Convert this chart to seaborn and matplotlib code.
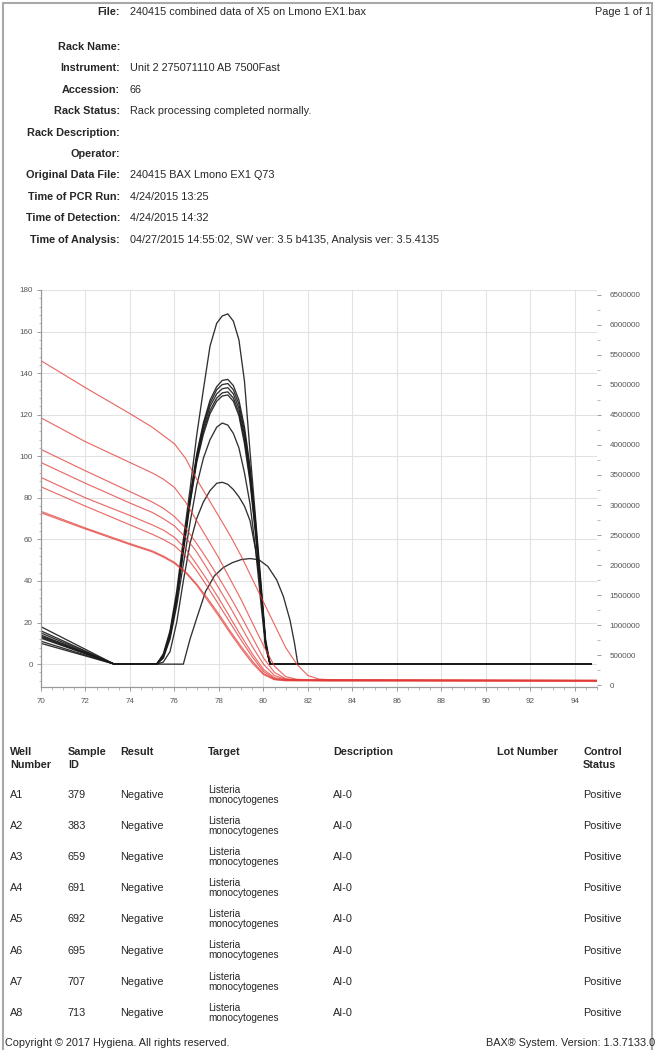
import numpy as np
import pandas as pd
import matplotlib
matplotlib.use("Agg")
import matplotlib.pyplot as plt
from matplotlib.ticker import MultipleLocator, FixedLocator
from matplotlib.patches import Rectangle
import seaborn as sns

sns.set_style("white")
plt.rcParams['font.family'] = ['Liberation Sans', 'DejaVu Sans']

# ---------------- data ----------------
# melt-curve (derivative) traces, black, left axis
BLACK_T = [70, 73.3, 75.2, 75.5, 75.8, 76.1, 76.4, 76.7, 77.0, 77.3, 77.6, 77.9, 78.15,
           78.4, 78.65, 78.9, 79.15, 79.4, 79.65, 79.9, 80.1, 80.3, 94.75]
black_1 = [14, 0, 0, 5, 16, 35, 60, 84, 110, 132, 153, 164, 167.5, 168.5, 165, 156, 136, 102, 70, 38, 12, 0, 0]
black_2 = [13, 0, 0, 4, 14, 32, 56, 80, 101, 116, 127, 133.5, 136.5, 137, 134, 127, 114, 95, 68, 36, 10, 0, 0]
black_3 = [16, 0, 0, 4, 15, 33, 57, 80, 100, 115, 125.5, 132, 134.5, 135, 132, 125, 112, 93, 66, 35, 10, 0, 0]
black_4 = [12.5, 0, 0, 4, 14, 32, 56, 79, 99, 113.5, 124, 130, 132.5, 133, 130, 123, 110, 91, 65, 34, 10, 0, 0]
black_5 = [18, 0, 0, 4, 14, 31, 55, 78, 98, 112, 122, 128, 130.5, 131, 128, 121, 108, 89, 64, 34, 9, 0, 0]
black_6 = [11, 0, 0, 3, 13, 30, 54, 77, 97, 110.5, 120.5, 126.5, 129, 129.5, 126.5, 119.5, 106, 87.5, 62, 33, 9, 0, 0]
black_7 = [15, 0, 0, 3, 12, 28, 48, 68, 86, 99, 108, 114, 116, 115, 111, 104, 92, 77, 55, 28, 8, 0, 0]
black_8 = [13.5, 0, 0, 1, 6, 20, 40, 58, 70, 78, 83.5, 87, 87.5, 86.5, 84, 80.5, 76, 69, 55, 35, 10, 0, 0]
BLACK9_T = [70, 73.3, 76.4, 76.7, 77.0, 77.4, 77.8, 78.2, 78.6, 79.0, 79.4, 79.8, 80.2,
            80.6, 80.9, 81.2, 81.4, 81.55, 94.75]
black_9 = [10, 0, 0, 12, 22, 35, 42.5, 46.5, 48.8, 50.3, 50.8, 50.2, 47, 40.5, 32.5, 21, 10, 0, 0]

# fluorescence traces, red
RED_T = [70, 72, 74, 75, 75.5, 76, 76.5, 77, 77.5, 78, 78.5, 79, 79.5, 80, 80.5, 81,
         81.5, 82, 82.5, 83, 86, 95]
red_1 = [146, 133, 120.5, 114, 110, 106, 99, 89, 80, 71, 62, 52, 41, 30, 19, 8, 0, -5.5, -7.2, -7.5, -7.6, -7.8]
red_2 = [118.5, 107, 97, 92, 89, 85, 78, 69, 60, 51, 41, 31, 20, 9, -1, -6, -7.3, -7.5, -7.6, -7.6, -7.7, -7.8]
red_3 = [103.3, 93, 83, 78, 75, 71, 65.5, 58, 50, 41.5, 32.5, 23, 13, 3, -4, -7, -7.5, -7.6, -7.6, -7.7, -7.7, -7.9]
red_4 = [97, 87, 77.5, 73, 70, 66.5, 61, 54, 45.5, 36.5, 27.5, 18, 8.5, 0, -5.5, -7.3, -7.6, -7.7, -7.7, -7.7, -7.8, -7.9]
red_5 = [89.8, 80, 71.5, 67, 64.5, 61, 55.5, 48, 40, 31.5, 22.5, 13.5, 5, -2.5, -6.5, -7.5, -7.7, -7.7, -7.8, -7.8, -7.8, -8.0]
red_6 = [85.3, 76, 67, 62.5, 60, 57, 52, 45, 37, 28.5, 20, 11.5, 3.5, -3.5, -7, -7.6, -7.7, -7.8, -7.8, -7.8, -7.9, -8.0]
red_7 = [73.5, 65.5, 58, 54.5, 52, 49, 44.5, 38.5, 31.5, 24, 16, 8.5, 1.5, -4.5, -7.3, -7.8, -7.9, -7.9, -7.9, -8.0, -8.0, -8.1]
red_8 = [72.8, 65, 57.5, 54, 51.5, 48.5, 44, 38, 30.5, 23, 15, 7.5, 0.5, -5, -7.5, -8, -8, -8, -8.1, -8.1, -8.1, -8.2]

X_TICKS = [70, 72, 74, 76, 78, 80, 82, 84, 86, 88, 90, 92, 94]
Y_TICKS = [0, 20, 40, 60, 80, 100, 120, 140, 160, 180]
Y2_TICKS = [0, 500000, 1000000, 1500000, 2000000, 2500000, 3000000, 3500000,
            4000000, 4500000, 5000000, 5500000, 6000000, 6500000]

header_labels = ["Rack Name:", "Instrument:", "Accession:", "Rack Status:", "Rack Description:",
                 "Operator:", "Original Data File:", "Time of PCR Run:", "Time of Detection:",
                 "Time of Analysis:"]
header_values = ["", "Unit 2 275071110 AB 7500Fast", "66", "Rack processing completed normally.",
                 "", "", "240415 BAX Lmono EX1 Q73", "4/24/2015 13:25", "4/24/2015 14:32",
                 "04/27/2015 14:55:02, SW ver: 3.5 b4135, Analysis ver: 3.5.4135"]

wells = ["A1", "A2", "A3", "A4", "A5", "A6", "A7", "A8"]
sample_ids = ["379", "383", "659", "691", "692", "695", "707", "713"]
results = ["Negative"] * 8
targets = ["Listeria\nmonocytogenes"] * 8
descriptions = ["AI-0"] * 8
control_status = ["Positive"] * 8

# ---------------- long data frame ----------------
rows = []
blacks = [(BLACK_T, black_1), (BLACK_T, black_2), (BLACK_T, black_3), (BLACK_T, black_4),
          (BLACK_T, black_5), (BLACK_T, black_6), (BLACK_T, black_7), (BLACK_T, black_8),
          (BLACK9_T, black_9)]
reds = [red_1, red_2, red_3, red_4, red_5, red_6, red_7, red_8]
for i, (t, v) in enumerate(blacks):
    for a, b in zip(t, v):
        rows.append(("b%d" % i, "melt", a, b))
for i, v in enumerate(reds):
    for a, b in zip(RED_T, v):
        rows.append(("r%d" % i, "fluor", a, b))
df = pd.DataFrame(rows, columns=["curve", "kind", "temp", "value"])

# ---------------- figure ----------------
W, H = 655, 1050
fig = plt.figure(figsize=(W / 100, H / 100), dpi=100)

def T(x, y, s, **kw):
    kw.setdefault("va", "center")
    kw.setdefault("color", "#262626")
    kw.setdefault("fontsize", 7.8)
    fig.text(x / W, 1 - y / H, s, **kw)

# page border
fig.add_artist(Rectangle((3 / W, -0.02), 649 / W, 1.02 - 3 / H, transform=fig.transFigure,
                         fill=False, edgecolor="#a8a8a8", lw=1.5))

# header
T(120, 12, "File:", ha="right", fontweight="bold")
T(130, 12, "240415 combined data of X5 on Lmono EX1.bax")
T(651, 12, "Page 1 of 1", ha="right")
for i, (lab, val) in enumerate(zip(header_labels, header_values)):
    y = 47 + i * 21.4
    T(120, y, lab, ha="right", fontweight="bold")
    if val:
        T(130, y, val)

# chart
ax = fig.add_axes([41 / W, 1 - 687 / H, 556 / W, 397 / H])
sns.lineplot(data=df[df.kind == "melt"], x="temp", y="value", units="curve", estimator=None,
             sort=False, color="#1a1a1a", lw=0.95, alpha=0.9, ax=ax, legend=False)
sns.lineplot(data=df[df.kind == "fluor"], x="temp", y="value", units="curve", estimator=None,
             sort=False, color="#e23b36", lw=0.85, alpha=0.75, ax=ax, legend=False)
ax.set_xlim(70, 95)
ax.set_ylim(-11, 180)
ax.xaxis.set_major_locator(FixedLocator(X_TICKS))
ax.xaxis.set_minor_locator(MultipleLocator(0.5))
ax.yaxis.set_major_locator(FixedLocator(Y_TICKS))
ax.yaxis.set_minor_locator(MultipleLocator(4))
ax.grid(True, which="major", color="#e2e2e2", lw=0.8)
ax.set_axisbelow(True)
ax.set_xlabel("")
ax.set_ylabel("")
for s in ["top", "right"]:
    ax.spines[s].set_visible(False)
for s in ["left", "bottom"]:
    ax.spines[s].set_color("#9a9a9a")
    ax.spines[s].set_linewidth(0.9)
ax.tick_params(axis="both", which="major", length=3, width=0.7, color="#9a9a9a",
               labelsize=5.8, labelcolor="#555555")
ax.tick_params(axis="x", which="major", pad=5)
ax.tick_params(axis="y", which="major", pad=3)
ax.tick_params(axis="both", which="minor", length=1.8, width=0.6, color="#b0b0b0")
ax.tick_params(left=True, bottom=True, which="both")

ax2 = ax.twinx()
ax2.set_ylim(-33000, 6583000)
ax2.yaxis.set_major_locator(FixedLocator(Y2_TICKS))
ax2.yaxis.set_minor_locator(MultipleLocator(250000))
ax2.set_yticklabels([str(v) for v in Y2_TICKS])
for s in ["top", "left", "bottom", "right"]:
    ax2.spines[s].set_visible(False)
ax2.tick_params(axis="y", which="major", length=3, width=0.7, color="#9a9a9a",
                labelsize=5.8, labelcolor="#555555", pad=6, right=True)
ax2.tick_params(axis="y", which="minor", length=1.8, width=0.6, color="#b0b0b0", right=True)
ax2.grid(False)

# table
cols_x = [10, 68, 120, 208, 333, 497, 583]
T(cols_x[0], 752, "Well", fontweight="bold")
T(cols_x[0], 765, "Number", fontweight="bold")
T(cols_x[1], 752, "Sample", fontweight="bold")
T(cols_x[1], 765, "ID", fontweight="bold")
T(cols_x[2], 752, "Result", fontweight="bold")
T(cols_x[3], 752, "Target", fontweight="bold")
T(cols_x[4], 752, "Description", fontweight="bold")
T(cols_x[5], 752, "Lot Number", fontweight="bold")
T(cols_x[6], 752, "Control", fontweight="bold")
T(cols_x[6], 765, "Status", fontweight="bold")
for i in range(8):
    y = 795 + i * 31.1
    T(cols_x[0], y, wells[i])
    T(cols_x[1], y, sample_ids[i])
    T(cols_x[2], y, results[i])
    T(cols_x[3], y, targets[i], linespacing=1.0, fontsize=7.2)
    T(cols_x[4], y, descriptions[i])
    T(cols_x[6], y, control_status[i])

T(5, 1043, "Copyright \u00a9 2017 Hygiena. All rights reserved.")
T(655, 1043, "BAX\u00ae System. Version: 1.3.7133.0", ha="right")

fig.savefig("out.png", dpi=100)
